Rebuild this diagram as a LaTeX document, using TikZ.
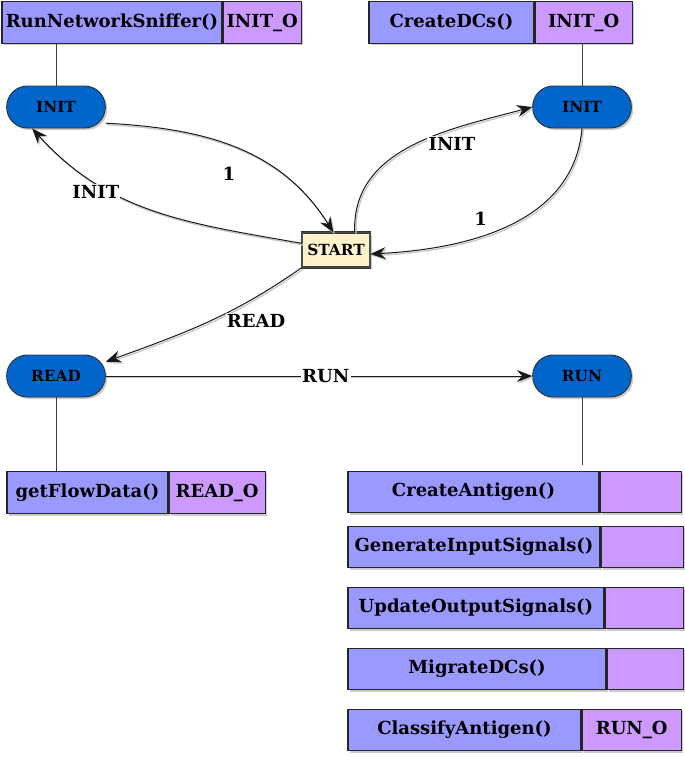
\documentclass[tikz,border=0pt]{standalone}
\usepackage{fontspec}
\setmainfont{DejaVu Serif}
\usetikzlibrary{positioning,shadows,arrows.meta}
\definecolor{fnblue}{HTML}{9999FF}
\definecolor{outpurple}{HTML}{CC99FF}
\definecolor{stateblue}{HTML}{0066CC}
\definecolor{startcream}{HTML}{FFF2CC}
\tikzset{
  boxshadow/.style={drop shadow={shadow xshift=1.5pt,shadow yshift=-1.5pt,fill=black!45,opacity=0.45}},
  fnbox/.style={draw=black!85,line width=0.9pt,fill=fnblue,inner sep=0pt,minimum height=31pt,
    font=\fontsize{13.5}{15}\selectfont\bfseries,boxshadow},
  outbox/.style={fnbox,fill=outpurple},
  statenode/.style={draw=black!80,line width=0.7pt,fill=stateblue,rounded corners=15.5pt,
    minimum width=74pt,minimum height=31.5pt,inner sep=0pt,font=\fontsize{11.5}{12}\selectfont\bfseries,boxshadow},
  startnode/.style={draw=black!80,double=black!70,double distance=1pt,line width=0.45pt,fill=startcream,
    minimum width=51pt,minimum height=26pt,inner sep=0pt,font=\fontsize{11.5}{12}\selectfont\bfseries,boxshadow},
  trans/.style={draw=black!90,line width=0.75pt,-{Stealth[length=11.5pt,width=9pt,inset=4pt]},
    preaction={draw=black!22,line width=1pt,transform canvas={shift={(1pt,-1.2pt)}}}},
  edgelabel/.style={fill=white,inner sep=1pt,font=\fontsize{13.5}{15}\selectfont\bfseries},
  link/.style={draw=black!75,line width=0.6pt}
}
\begin{document}
\begin{tikzpicture}[x=0.75pt,y=0.75pt]
\useasboundingbox (0,0) rectangle (685,-757);
% states
\node[statenode] (initl) at (56,-107) {INIT};
\node[statenode] (initr) at (582,-107) {INIT};
\node[startnode] (start) at (336,-250) {START};
\node[statenode] (readst) at (56,-376) {READ};
\node[statenode] (runst) at (582,-376) {RUN};
% function boxes
\node[fnbox,minimum width=165pt] (sniff) at (112,-22.5) {RunNetworkSniffer()};
\node[outbox,minimum width=58.5pt,right=0pt of sniff] (sniffo) {INIT\_O};
\node[fnbox,minimum width=123.75pt] (create) at (451.5,-22.5) {CreateDCs()};
\node[outbox,minimum width=72.75pt,right=0pt of create] (createo) {INIT\_O};
\node[fnbox,minimum width=120.75pt,minimum height=32pt] (flow) at (87.5,-492.5) {getFlowData()};
\node[outbox,minimum width=72pt,minimum height=32pt,right=0pt of flow] (flowo) {READ\_O};
\foreach \nm/\txt/\yy/\wa/\wb/\out in {antigen/CreateAntigen()/492/251/81/,
    gen/GenerateInputSignals()/547/252/82/,
    upd/UpdateOutputSignals()/608/256/78/,
    mig/MigrateDCs()/669/258/76/,
    cls/ClassifyAntigen()/730/233/99/RUN\_O}{
  \node[fnbox,minimum width=\wa*0.75pt] (\nm) at (348+\wa/2,-\yy) {\txt};
  \node[outbox,minimum width=\wb*0.75pt,right=0pt of \nm] (\nm o) {\out};
}
% links between states and boxes
\draw[link] (initl.north) -- (initl.north |- sniff.south);
\draw[link] (initr.north) -- (initr.north |- createo.south);
\draw[link] (readst.south) -- (readst.south |- flow.north);
\draw[link,shorten >=4.5pt] (runst.south) -- (runst.south |- antigeno.north);
% transitions
\draw[trans] (initl.-18) to[out=-3,in=122] node[pos=0.5,edgelabel,fill=none,xshift=-6pt,yshift=-19.5pt] {1} ([xshift=-2pt]start.north);
\draw[trans] ([yshift=5pt]start.west) to[out=170,in=-48] node[pos=0.74,edgelabel,xshift=2pt,yshift=-8pt] {INIT} (initl.-138);
\draw[trans] ([xshift=14pt]start.north) to[out=92,in=195] node[pos=0.62,edgelabel,xshift=10.5pt,yshift=-7.5pt] {INIT} (initr.west);
\draw[trans] (initr.south) to[out=-95,in=3] node[pos=0.55,edgelabel,fill=none,xshift=-12pt,yshift=9pt] {1} ([yshift=-3pt]start.east);
\draw[trans] (start.south west) to[out=-145,in=20] node[pos=0.35,edgelabel,xshift=16pt,yshift=-9pt] {READ} (readst.16);
\draw[trans] (readst.east) -- node[edgelabel,xshift=5pt] {RUN} (runst.west);
\end{tikzpicture}
\end{document}
